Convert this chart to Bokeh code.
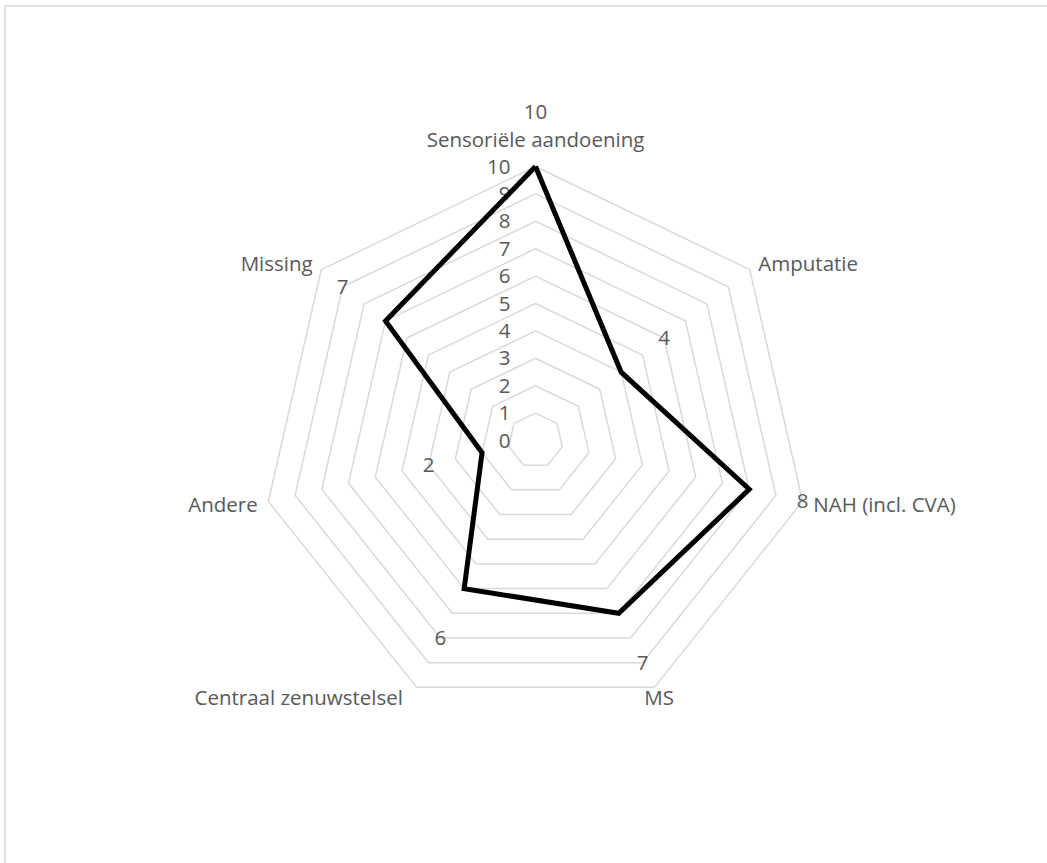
import math
from bokeh.plotting import figure
from bokeh.models import ColumnDataSource
from bokeh.core.properties import value
from bokeh.embed import file_html
from bokeh.resources import INLINE

# Categories and counts
categories = ["Sensoriële aandoening", "Amputatie", "NAH (incl. CVA)", "MS",
              "Centraal zenuwstelsel", "Andere", "Missing"]
counts = [10, 4, 8, 7, 6, 2, 7]
ring_values = list(range(1, 11))
tick_labels = [str(v) for v in range(0, 11)]

FONT = "Open Sans"
FONT_SIZE = "20.5px"
TEXT_COLOR = "#595959"
GRID_COLOR = "#d9d9d9"
SCALE = 27.4          # pixels per unit of the radial axis
CX, CY = 535, 440     # pixel position of the radar centre
W, H = 1047, 863

n = len(categories)
angles = [2 * math.pi * i / n for i in range(n)]   # clockwise from the top


def polar(r, a):
    return r * math.sin(a), r * math.cos(a)


def px_x(px):
    return (px - CX) / SCALE


def px_y(py):
    return (CY - py) / SCALE


p = figure(width=W, height=H, output_backend="svg", toolbar_location=None,
           x_range=(px_x(0), px_x(W)), y_range=(px_y(H), px_y(0)),
           min_border=0)
p.axis.visible = False
p.grid.visible = False
p.outline_line_color = None
p.background_fill_color = "white"
p.border_fill_color = "white"

# Chart-area border, running off the right and bottom of the canvas
p.quad(left=[px_x(4.5)], right=[px_x(W + 40)], top=[px_y(5.5)], bottom=[px_y(H + 40)],
       fill_color=None, line_color=GRID_COLOR, line_width=1.5)

# Concentric heptagon grid
xs, ys = [], []
for v in ring_values:
    pts = [polar(v, a) for a in angles] + [polar(v, angles[0])]
    xs.append([q[0] for q in pts])
    ys.append([q[1] for q in pts])
p.multi_line(xs, ys, line_color=GRID_COLOR, line_width=1.5)

# Radial tick labels beside the vertical axis
p.text(x=[-25 / SCALE] * len(tick_labels), y=list(range(0, 11)), text=tick_labels,
       text_align="right", text_baseline="middle", text_font=value(FONT),
       text_font_size=FONT_SIZE, text_color=TEXT_COLOR)

# Data polygon
pts = [polar(c, a) for c, a in zip(counts, angles)]
pts.append(pts[0])
p.line([q[0] for q in pts], [q[1] for q in pts], line_color="black",
       line_width=5, line_join="miter")

# Value labels just outside each data point
vl = [polar(c + 2, a) for c, a in zip(counts, angles)]
p.text(x=[q[0] for q in vl], y=[q[1] for q in vl], text=[str(c) for c in counts],
       text_align="center", text_baseline="middle", text_font=value(FONT),
       text_font_size=FONT_SIZE, text_color=TEXT_COLOR)

# Category labels around the outer ring
cl = [polar(10.4, a) for a in angles]
cl[0] = polar(11.0, angles[0])
aligns = ["center", "left", "left", "center", "right", "right", "right"]
offsets = [0, 0, 0, 0, -9, 0, 0]
src = ColumnDataSource(dict(x=[q[0] for q in cl], y=[q[1] for q in cl],
                            t=categories, a=aligns, o=offsets))
p.text(x="x", y="y", text="t", text_align="a", x_offset="o", source=src,
       text_baseline="middle", text_font=value(FONT),
       text_font_size=FONT_SIZE, text_color=TEXT_COLOR)

open("out.html", "w").write(file_html(p, INLINE))
